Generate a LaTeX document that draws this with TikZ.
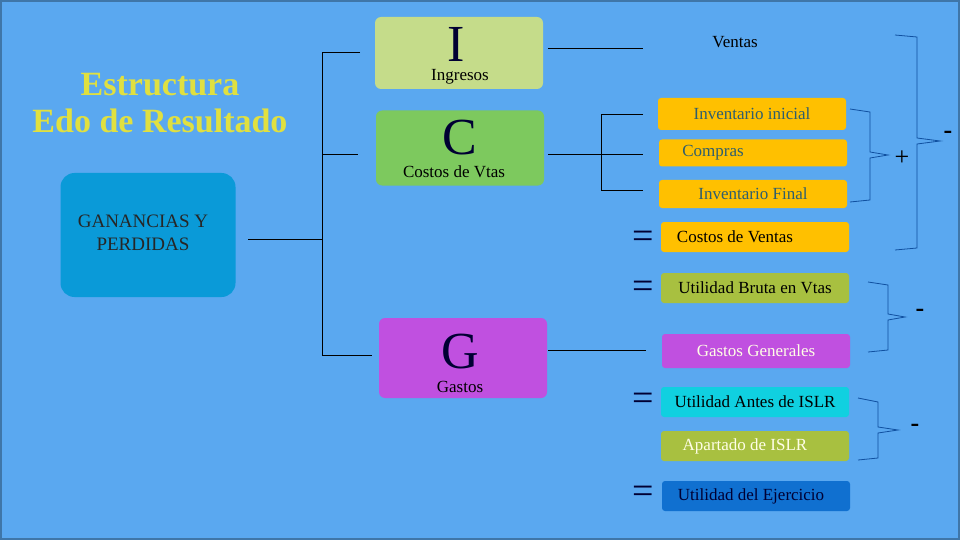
\documentclass[tikz,border=0pt]{standalone}
\usepackage{fontspec}
\setmainfont{Liberation Serif}
\usetikzlibrary{positioning}
\definecolor{bgblue}{HTML}{5AA8F0}
\definecolor{ingreen}{HTML}{C5DC8A}
\definecolor{cgreen}{HTML}{7DC95E}
\definecolor{gpurple}{HTML}{C050E0}
\definecolor{ganblue}{HTML}{0A9AD8}
\definecolor{orng}{HTML}{FFC000}
\definecolor{olive}{HTML}{A8C040}
\definecolor{cyanbox}{HTML}{10D0E0}
\definecolor{darkbl}{HTML}{1070D0}
\definecolor{tealtxt}{HTML}{2E5E6E}
\definecolor{ttl}{HTML}{E0E040}
\definecolor{brc}{HTML}{1050A0}

\begin{document}
\begin{tikzpicture}[x=1pt,y=-1pt]
    % Define block styles
    \tikzset{
      letterbox/.style={rectangle, rounded corners=6pt, minimum width=168pt, minimum height=72pt},
      bigletter/.style={font=\fontsize{52}{52}\selectfont, text=black!80!blue, inner sep=0pt},
      itembox/.style={rectangle, rounded corners=3pt, minimum width=188pt, minimum height=30pt, font=\fontsize{17}{19}\selectfont},
      wire/.style={draw, black, line width=0.6pt},
      bracket/.style={draw, brc, line width=0.8pt},
      eqsign/.style={font=\fontsize{38}{38}\selectfont, text=black!80!blue}
    }
    \fill[bgblue] (0,0) rectangle (960,540);
    \draw[bgblue!70!black, line width=2pt] (1,1) rectangle (959,539);

    % Title
    \node[align=center, text=ttl, font=\fontsize{34}{37}\selectfont\bfseries] (title) at (160,103) {Estructura\\Edo de Resultado};
    \node[rectangle, rounded corners=14pt, fill=ganblue, minimum width=175pt, minimum height=124pt] (gan) at (148,235) {};
    \node[align=center, font=\fontsize{19}{23}\selectfont, text=black!85] (ganTxt) at (143,233) {GANANCIAS Y\\PERDIDAS};

    % Letter blocks
    \node[letterbox, fill=ingreen] (ing) at (459,53) {};
    \node[bigletter] at (456,44) {I};
    \node[font=\fontsize{17}{19}\selectfont] at (460,77) {Ingresos};
    \node[letterbox, fill=cgreen, minimum height=75pt] (cos) at (460,148) {};
    \node[bigletter] at (460,138) {C};
    \node[font=\fontsize{17}{19}\selectfont] at (454,172) {Costos de Vtas};
    \node[letterbox, fill=gpurple, minimum height=80pt] (gas) at (463,358) {};
    \node[bigletter] at (460,352) {G};
    \node[font=\fontsize{17}{19}\selectfont] at (460,387) {Gastos};

    % Items
    \node[font=\fontsize{17}{19}\selectfont] (ventas) at (735,42) {Ventas};
    \node[itembox, fill=orng, minimum height=32pt, text=tealtxt] (invIni) at (752,114) {Inventario inicial};
    \node[itembox, fill=orng, minimum height=27pt, text=tealtxt] (compras) at (753,153) {\hspace*{-80pt}Compras};
    \node[itembox, fill=orng, minimum height=28pt, text=tealtxt] (invFin) at (753,194) {Inventario Final};
    \node[itembox, fill=orng] (cv) at (755,237) {\hspace*{-40pt}Costos de Ventas};
    \node[itembox, fill=olive] (ub) at (755,288) {Utilidad Bruta en Vtas};
    \node[itembox, fill=gpurple, minimum height=34pt, text=white!90!yellow] (gg) at (756,351) {Gastos Generales};
    \node[itembox, fill=cyanbox] (ua) at (755,402) {Utilidad Antes de ISLR};
    \node[itembox, fill=olive, text=white!90!yellow] (ap) at (755,446) {\hspace*{-20pt}Apartado de ISLR};
    \node[itembox, fill=darkbl, text=black!80!blue] (ue) at (756,496) {\hspace*{-10pt}Utilidad del Ejercicio};

    % Equal signs
    \node[eqsign] (eq1) at (643,240) {=};
    \node[eqsign] (eq2) at (643,290) {=};
    \node[eqsign] (eq3) at (643,402) {=};
    \node[eqsign] (eq4) at (643,495) {=};

    % Wires
    \coordinate (ganR) at (248,239);
    \coordinate (ingL) at (360,52);
    \coordinate (cosL) at (358,154);
    \coordinate (gasL) at (372,355);
    \coordinate (ventasL) at (643,48);
    \coordinate (iniL) at (643,114);
    \coordinate (comL) at (643,154);
    \coordinate (finL) at (643,190);
    \coordinate (ggL) at (646,350);
    \path[wire] (ganR) -- (322,239);
    \path[wire] (ingL) -- (322,52) -- (322,355) -- (gasL);
    \path[wire] (322,154) -- (cosL);
    \path[wire] (548,48) -- (ventasL);
    \path[wire] (548,154) -- (comL);
    \path[wire] (iniL) -- (601,114) -- (601,190) -- (finL);
    \path[wire] (548,350) -- (ggL);

    % Brackets
    \path[bracket] (850,109) -- (870,112) -- (870,152) -- (888,155) -- (870,158) -- (870,200) -- (850,202);
    \node[font=\fontsize{26}{26}\selectfont] (plus) at (902,158) {+};
    \path[bracket] (895,35) -- (917,37) -- (917,138) -- (940,141) -- (917,144) -- (917,248) -- (895,250);
    \node[font=\fontsize{26}{26}\selectfont\bfseries] (minus1) at (948,135) {-};
    \path[bracket] (868,282) -- (888,285) -- (888,314) -- (905,317) -- (888,320) -- (888,350) -- (868,352);
    \node[font=\fontsize{26}{26}\selectfont\bfseries] (minus2) at (920,313) {-};
    \path[bracket] (858,398) -- (878,402) -- (878,427) -- (898,430) -- (878,433) -- (878,458) -- (858,460);
    \node[font=\fontsize{26}{26}\selectfont\bfseries] (minus3) at (915,428) {-};
\end{tikzpicture}
\end{document}
